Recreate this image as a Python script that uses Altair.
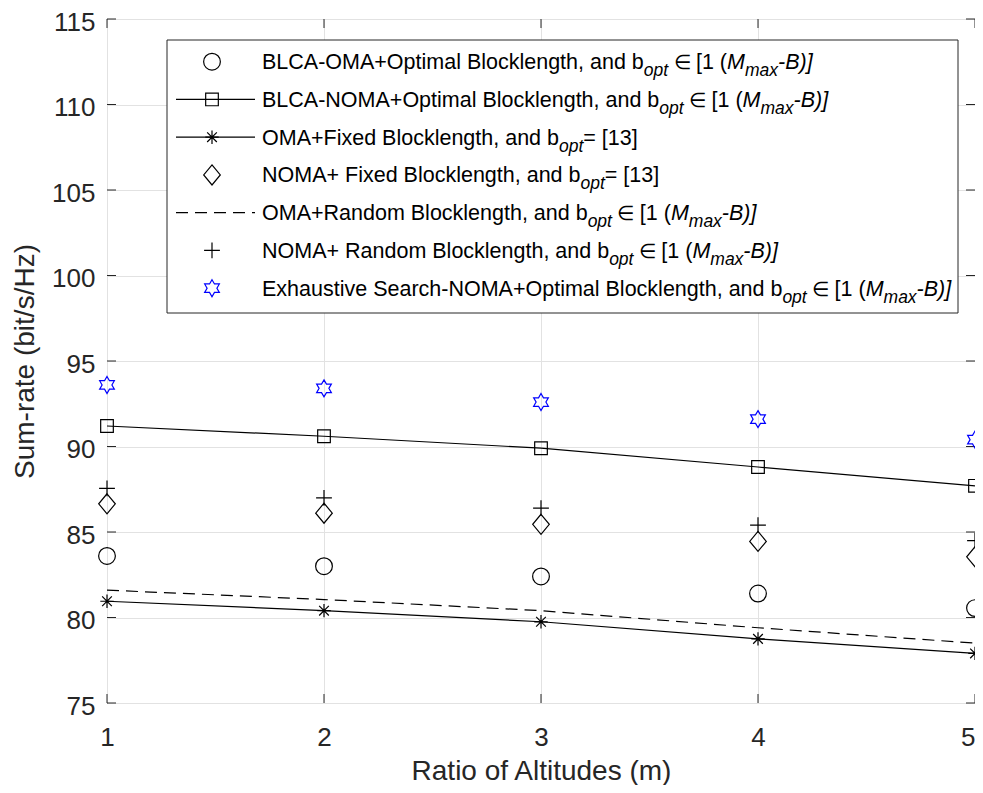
import math
import altair as alt
import pandas as pd

# ---------------- data ----------------
ratio = [1, 2, 3, 4, 5]
blca_oma = [83.6, 83.0, 82.4, 81.4, 80.55]
blca_noma = [91.2, 90.6, 89.9, 88.8, 87.7]
oma_fixed = [80.95, 80.4, 79.75, 78.75, 77.9]
noma_fixed = [86.65, 86.1, 85.45, 84.45, 83.55]
oma_random = [81.6, 81.05, 80.4, 79.4, 78.5]
noma_random = [87.55, 87.0, 86.4, 85.4, 84.5]
exhaustive = [93.6, 93.4, 92.6, 91.6, 90.4]

legend_heads = [
    "BLCA-OMA+Optimal Blocklength, and b",
    "BLCA-NOMA+Optimal Blocklength, and b",
    "OMA+Fixed Blocklength, and b",
    "NOMA+ Fixed Blocklength, and b",
    "OMA+Random Blocklength, and b",
    "NOMA+ Random Blocklength, and b",
    "Exhaustive Search-NOMA+Optimal Blocklength, and b",
]
legend_tails = ["in", "in", "eq", "eq", "in", "in", "in"]

x_ticks = [1, 2, 3, 4, 5]
y_ticks = [75, 80, 85, 90, 95, 100, 105, 110, 115]

# ---------------- layout / style ----------------
PAD_L = 99
W, H = 868, 684
X0, X1 = 1, 5
Y0, Y1 = 75, 115
FONT = "Liberation Sans, Arial, Helvetica, sans-serif"
INK = "#262626"
LW = 1.2


def to_dx(px):
    return X0 + (X1 - X0) * px / W


def to_dy(py):
    return Y1 - (Y1 - Y0) * py / H


xs = alt.Scale(domain=[X0, X1], nice=False, zero=False)
ys = alt.Scale(domain=[Y0, Y1], nice=False, zero=False)

x_axis = alt.Axis(
    values=x_ticks, format="d", grid=True, gridColor="#e2e2e2", gridWidth=1,
    ticks=False, domain=False, labelFlush=False, labelOverlap=False,
    labelAlign={"condition": {"test": f"datum.value === {X1}", "value": "right"}, "value": "center"},
    labelFontSize=26, labelFont=FONT, labelColor=INK, labelPadding=21,
    title="Ratio of Altitudes (m)", titleFont=FONT, titleFontSize=28,
    titleFontWeight="normal", titleColor=INK, titleBaseline="alphabetic",
    titleAlign="center", titleX=W / 2, titleY=76,
)
y_axis = alt.Axis(
    values=y_ticks, format="d", grid=True, gridColor="#e2e2e2", gridWidth=1,
    ticks=False, domain=False, labelFlush=False, labelOverlap=False,
    labelFontSize=26, labelFont=FONT, labelColor=INK, labelPadding=12,
    labelOffset=3,
    title="Sum-rate (bit/s/Hz)", titleFont=FONT, titleFontSize=28,
    titleFontWeight="normal", titleColor=INK, titleBaseline="alphabetic",
    titleAlign="center", titleAngle=270, titleX=-74, titleY=H / 2,
)


def X():
    return alt.X("x:Q", scale=xs, axis=x_axis)


def Y():
    return alt.Y("y:Q", scale=ys, axis=y_axis)


# marker shapes
hex_pts = []
for k in range(12):
    a = math.radians(-90 + 30 * k)
    r = 1.0 if k % 2 == 0 else 1 / math.sqrt(3)
    hex_pts.append(f"{r * math.cos(a):.4f},{r * math.sin(a):.4f}")
HEXAGRAM = "M" + "L".join(hex_pts) + "Z"
PLUS = "M-1,0L1,0M0,-1L0,1"
ASTER = "M-1,0L1,0M0,-1L0,1M-0.72,-0.72L0.72,0.72M-0.72,0.72L0.72,-0.72"
DIAMOND = "M0,-1L0.83,0L0,1L-0.83,0Z"

styles = {
    "circle": dict(shape="circle", size=280, color="black"),
    "square": dict(shape="square", size=160, color="black"),
    "aster": dict(shape=ASTER, size=180, color="black"),
    "diamond": dict(shape=DIAMOND, size=400, color="black"),
    "plus": dict(shape=PLUS, size=250, color="black"),
    "hex": dict(shape=HEXAGRAM, size=289, color="#0000ff"),
}


def points(df, key):
    s = styles[key]
    return alt.Chart(df).mark_point(
        shape=s["shape"], size=s["size"], color=s["color"], filled=False,
        strokeWidth=LW, opacity=1,
    ).encode(x=X(), y=Y())


def series_df(vals):
    return pd.DataFrame({"x": ratio, "y": vals})


layers = []

# inward ticks on all four sides
ydf = pd.DataFrame({"y": y_ticks})
xdf = pd.DataFrame({"x": x_ticks})
tick_mark = dict(color=INK, strokeWidth=1)
layers.append(alt.Chart(ydf).mark_rule(**tick_mark).encode(y=Y(), x=alt.value(0), x2=alt.value(9)))
layers.append(alt.Chart(ydf).mark_rule(**tick_mark).encode(y=Y(), x=alt.value(W - 9), x2=alt.value(W)))
layers.append(alt.Chart(xdf).mark_rule(**tick_mark).encode(x=X(), y=alt.value(H - 9), y2=alt.value(H)))
layers.append(alt.Chart(xdf).mark_rule(**tick_mark).encode(x=X(), y=alt.value(0), y2=alt.value(9)))

# series lines
layers.append(alt.Chart(series_df(blca_noma)).mark_line(color="black", strokeWidth=LW).encode(x=X(), y=Y()))
layers.append(alt.Chart(series_df(oma_fixed)).mark_line(color="black", strokeWidth=LW).encode(x=X(), y=Y()))
layers.append(alt.Chart(series_df(oma_random)).mark_line(color="black", strokeWidth=LW, strokeDash=[12, 7]).encode(x=X(), y=Y()))

# series markers
layers.append(points(series_df(blca_oma), "circle"))
layers.append(points(series_df(blca_noma), "square"))
layers.append(points(series_df(oma_fixed), "aster"))
layers.append(points(series_df(noma_fixed), "diamond"))
layers.append(points(series_df(noma_random), "plus"))
layers.append(points(series_df(exhaustive), "hex"))

# ---------------- legend ----------------
LB = dict(l=60, r=851, t=21, b=294)
box = pd.DataFrame({"x": [to_dx(LB["l"])], "x2": [to_dx(LB["r"])],
                    "y": [to_dy(LB["t"])], "y2": [to_dy(LB["b"])]})
layers.append(alt.Chart(box).mark_rect(fill="white", stroke=INK, strokeWidth=1).encode(
    x=X(), x2="x2:Q", y=Y(), y2="y2:Q"))

row_y = [42.7 + 37.75 * i for i in range(7)]
SYM_X, LINE_L, LINE_R, TEXT_X = 105, 69, 148, 155

# line samples
for i, dash in [(1, None), (2, None), (4, [12, 7])]:
    d = pd.DataFrame({"x": [to_dx(LINE_L)], "x2": [to_dx(LINE_R)], "y": [to_dy(row_y[i])]})
    kw = dict(color="black", strokeWidth=LW)
    if dash:
        kw["strokeDash"] = dash
    layers.append(alt.Chart(d).mark_rule(**kw).encode(x=X(), x2="x2:Q", y=Y()))

for i, key in [(0, "circle"), (1, "square"), (2, "aster"), (3, "diamond"), (5, "plus"), (6, "hex")]:
    d = pd.DataFrame({"x": [to_dx(SYM_X)], "y": [to_dy(row_y[i])]})
    layers.append(points(d, key))

# text widths (Arial / Liberation Sans metrics, per 1000 em)
AW = {
    "A": 667, "B": 667, "C": 722, "E": 667, "F": 611, "L": 556, "M": 833, "N": 722,
    "O": 778, "R": 722, "S": 667, "a": 556, "b": 556, "c": 500, "d": 556, "e": 556,
    "f": 278, "g": 556, "h": 556, "i": 222, "k": 500, "l": 222, "m": 833, "n": 556,
    "o": 556, "p": 556, "r": 333, "s": 500, "t": 278, "u": 556, "v": 500, "x": 500,
    " ": 278, "-": 333, "+": 584, ",": 278, "=": 584, "[": 278, "]": 278, "(": 333,
    ")": 333, "1": 556, "3": 556,
}
MAIN, SUB = 21.5, 17.5
SUB_DY = 7
BASE_DY = 7.5


def tw(s, size):
    return sum(AW.get(c, 556) for c in s) / 1000 * size


tails = {
    "in": [("opt", "s"), (" ", "r"), ("\u2208", "e"), (" [1 (", "r"), ("M", "i"), ("max", "s"), ("-B)]", "i")],
    "eq": [("opt", "s"), ("= [13]", "r")],
}

pieces = {"r": [], "i": [], "s": [], "e": []}
for i, head in enumerate(legend_heads):
    segs = [(head, "r")] + tails[legend_tails[i]]
    x = TEXT_X
    base = row_y[i] + BASE_DY
    for txt, kind in segs:
        size = SUB if kind == "s" else MAIN
        if kind == "e":
            w = 0.74 * MAIN
            pieces["e"].append({"x": to_dx(x + w / 2), "y": to_dy(base), "t": txt})
            x += w
            continue
        # leading spaces are collapsed by SVG: advance manually
        lead = len(txt) - len(txt.lstrip(" "))
        x += tw(" " * lead, size)
        body = txt.lstrip(" ")
        if body:
            yy = base + (SUB_DY if kind == "s" else 0)
            pieces[kind].append({"x": to_dx(x), "y": to_dy(yy), "t": body})
            x += tw(body, size)

text_styles = {
    "r": dict(fontSize=MAIN, fontStyle="normal", align="left"),
    "i": dict(fontSize=MAIN, fontStyle="italic", align="left"),
    "s": dict(fontSize=SUB, fontStyle="italic", align="left"),
    "e": dict(fontSize=MAIN - 2, fontStyle="normal", align="center"),
}
for kind, rows in pieces.items():
    if not rows:
        continue
    d = pd.DataFrame(rows)
    layers.append(alt.Chart(d).mark_text(
        font=FONT, color="black", baseline="alphabetic", **text_styles[kind]
    ).encode(x=X(), y=Y(), text="t:N"))

chart = alt.layer(*layers).properties(
    width=W, height=H,
    autosize=alt.AutoSizeParams(type="none"),
    padding={"left": PAD_L, "top": 11, "right": 0, "bottom": 82},
    background="white",
).configure_view(stroke=INK, strokeWidth=1)

chart.save("out.html", embed_options={"renderer": "svg", "actions": False})
